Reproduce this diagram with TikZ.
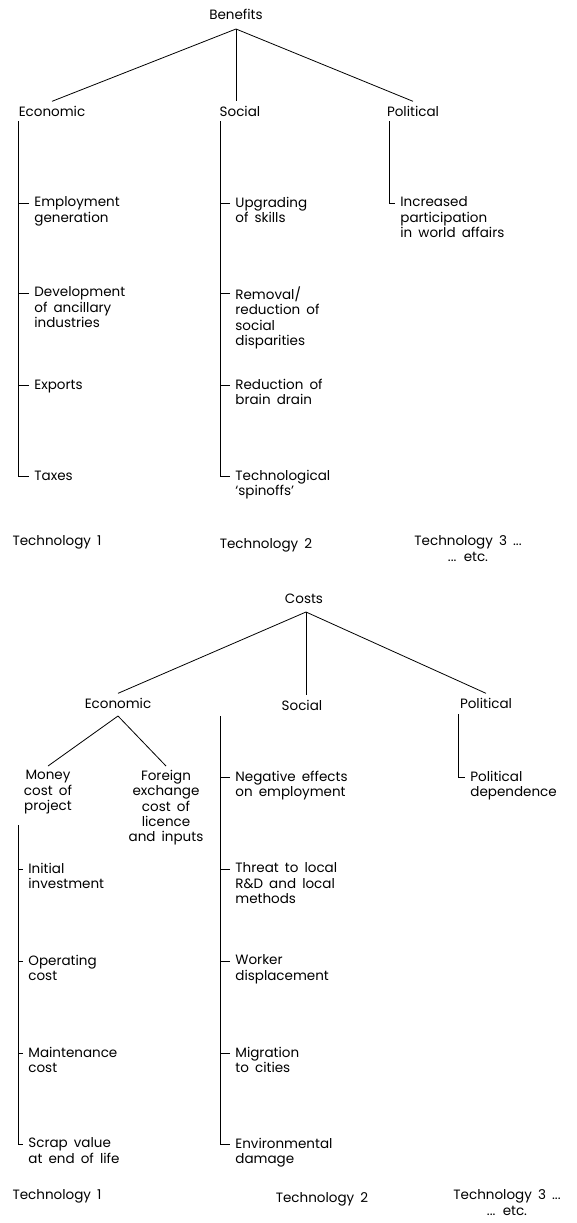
\documentclass[tikz,border=0pt]{standalone}
\usepackage{fontspec}
\setmainfont[WordSpace=1.7]{Poppins}
\usepackage{tikz}
\newcommand{\treefont}{\fontsize{13.5}{15.3}\selectfont}
\tikzset{
    every node/.style = {font=\treefont},
    head/.style = {anchor=base, inner sep=4pt},
    leaf/.style = {anchor=north west, align=left, inner sep=5pt,
        execute at begin node=\strut},
    pair/.style = {anchor=north, align=center, inner sep=4pt,
        execute at begin node=\strut},
    tech/.style = {anchor=base, align=center}
}

\begin{document}
\begin{tikzpicture}[x=1pt,y=-1pt,line width=0.8pt]
        \useasboundingbox (0,0) rectangle (576,1223);

        % benefits
        \node[head] (ben) at (236, 20) {Benefits};
        \node[head] (beco) at (52, 116) {Economic};
        \node[head] (bsoc) at (240, 116) {Social};
        \node[head] (bpol) at (413, 116) {Political};
        \coordinate (benfork) at (236, 29);

        % leaves: tick sits 11.5 below the node's top
        \node[leaf] (b1) at (29, 191.5) {Employment\\generation};
        \node[leaf] (b2) at (29, 281.5) {Development\\of ancillary\\industries};
        \node[leaf] (b3) at (29, 373.5) {Exports};
        \node[leaf] (b4) at (29, 464.5) {Taxes};

        \node[leaf] (b5) at (230, 191.5) {Upgrading\\of skills};
        \node[leaf] (b6) at (230, 281.5) {Removal/\\reduction of\\social\\disparities};
        \node[leaf] (b7) at (230, 373.5) {Reduction of\\brain drain};
        \node[leaf] (b8) at (230, 464.5) {Technological\\`spinoffs'};

        \node[leaf] (b9) at (395, 191.5) {Increased\\participation\\in world affairs};

        \node[tech] (bt1) at (57, 545) {Technology 1};
        \node[tech] (bt2) at (266, 548) {Technology 2};
        \node[tech] (bt3) at (468, 561) {Technology 3 ...\\... etc.};

        \coordinate (becotop) at (18, 121);
        \coordinate (bsoctop) at (220, 121);
        \coordinate (bpoltop) at (389, 121);

        \path[draw]
            (benfork) edge (beco.north)
            (benfork) edge (benfork |- bsoc.north)
            (benfork) edge (bpol.north)
            (becotop) edge[to path={|- (\tikztotarget)}] ([yshift=-11.5pt]b4.north west)
            (bsoctop) edge[to path={|- (\tikztotarget)}] ([yshift=-11.5pt]b8.north west)
            (bpoltop) edge[to path={|- (\tikztotarget)}] ([yshift=-11.5pt]b9.north west)
        ;
        \foreach \n in {b1,b2,b3}
            \draw ([yshift=-11.5pt]\n.north west) -- ([yshift=-11.5pt]\n.north west -| becotop);
        \foreach \n in {b5,b6,b7}
            \draw ([yshift=-11.5pt]\n.north west) -- ([yshift=-11.5pt]\n.north west -| bsoctop);

        % costs
        \node[head] (cost) at (304, 603) {Costs};
        \node[head] (ceco) at (118, 708) {Economic};
        \node[head] (csoc) at (302, 710) {Social};
        \node[head] (cpol) at (486, 708) {Political};
        \coordinate (costfork) at (306, 612);
        \coordinate (ecofork) at (118, 716);

        \node[pair] (cm) at (48, 766) {Money\\cost of\\project};
        \node[pair] (cf) at (166, 766) {Foreign\\exchange\\cost of\\licence\\and inputs};

        \node[leaf] (c1) at (23, 857.5) {Initial\\investment};
        \node[leaf] (c2) at (23, 949.5) {Operating\\cost};
        \node[leaf] (c3) at (23, 1041.5) {Maintenance\\cost};
        \node[leaf] (c4) at (23, 1132.5) {Scrap value\\at end of life};

        \node[leaf] (c5) at (230, 765.5) {Negative effects\\on employment};
        \node[leaf] (c6) at (230, 857.5) {Threat to local\\R\&D and local\\methods};
        \node[leaf] (c7) at (230, 949.5) {Worker\\displacement};
        \node[leaf] (c8) at (230, 1041.5) {Migration\\to cities};
        \node[leaf] (c9) at (230, 1132.5) {Environmental\\damage};

        \node[leaf] (c10) at (465, 765.5) {Political\\dependence};

        \node[tech] (ct1) at (57, 1199) {Technology 1};
        \node[tech] (ct2) at (322, 1202) {Technology 2};
        \node[tech] (ct3) at (507, 1215) {Technology 3 ...\\... etc.};

        \coordinate (cmtop) at (18, 825);
        \coordinate (csoctop) at (220, 716);
        \coordinate (cpoltop) at (458, 714);

        \path[draw]
            (costfork) edge (ceco.north)
            (costfork) edge (costfork |- csoc.north)
            (costfork) edge (cpol.north)
            (ecofork) edge (cm.north)
            (ecofork) edge (cf.north)
            (cmtop) edge[to path={|- (\tikztotarget)}] ([yshift=-11.5pt]c4.north west)
            (csoctop) edge[to path={|- (\tikztotarget)}] ([yshift=-11.5pt]c9.north west)
            (cpoltop) edge[to path={|- (\tikztotarget)}] ([yshift=-11.5pt]c10.north west)
        ;
        \foreach \n in {c1,c2,c3}
            \draw ([yshift=-11.5pt]\n.north west) -- ([yshift=-11.5pt]\n.north west -| cmtop);
        \foreach \n in {c5,c6,c7,c8}
            \draw ([yshift=-11.5pt]\n.north west) -- ([yshift=-11.5pt]\n.north west -| csoctop);
    \end{tikzpicture}
\end{document}
